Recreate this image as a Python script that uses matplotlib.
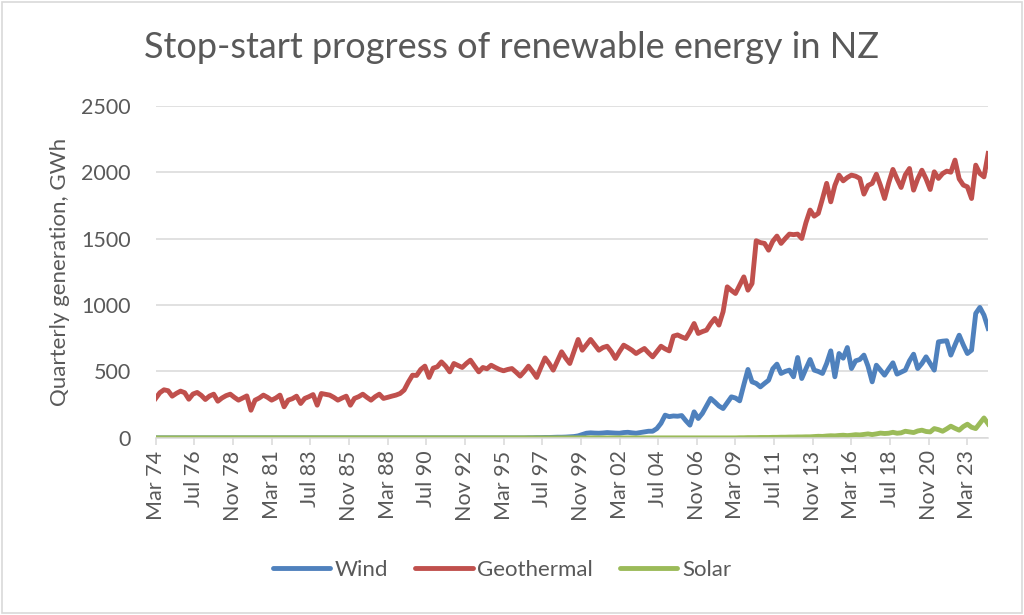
import numpy as np
import pandas as pd
import matplotlib
matplotlib.use("Agg")
import matplotlib.pyplot as plt
from matplotlib.patches import Rectangle

plt.rcParams['font.family'] = ['Lato', 'DejaVu Sans']

# quarterly generation (GWh), Mar 1974 .. Jun 2024
geothermal = [
    297, 340, 362, 355, 314, 335, 352, 340, 291, 330, 342, 320, 289, 315, 329, 276,
    300, 318, 329, 305, 284, 300, 316, 208, 284, 300, 322, 305, 284, 300, 322, 234,
    284, 295, 314, 259, 297, 310, 326, 246, 334, 328, 322, 305, 284, 300, 314, 246,
    297, 310, 329, 305, 284, 310, 329, 297, 305, 314, 322, 334, 360, 420, 472, 470,
    515, 540, 455, 525, 535, 572, 540, 497, 560, 545, 530, 560, 585, 540, 497, 530,
    520, 547, 530, 515, 505, 515, 522, 495, 465, 500, 540, 500, 455, 530, 602, 560,
    510, 580, 648, 600, 560, 650, 741, 660, 700, 741, 700, 660, 680, 690, 650, 598,
    650, 698, 680, 660, 635, 655, 673, 640, 610, 650, 690, 670, 655, 766, 775, 760,
    748, 800, 861, 786, 800, 811, 860, 899, 849, 950, 1137, 1110, 1087, 1150, 1212, 1112,
    1162, 1484, 1470, 1464, 1413, 1480, 1519, 1464, 1500, 1534, 1530, 1534, 1501, 1620, 1715, 1669,
    1690, 1800, 1916, 1777, 1900, 1978, 1935, 1960, 1978, 1970, 1953, 1835, 1900, 1916, 1985, 1900,
    1802, 1920, 2021, 1950, 1885, 1980, 2028, 1865, 1950, 2015, 1950, 1870, 2003, 1953, 1990, 2008,
    2000, 2091, 1950, 1903, 1890, 1802, 2053, 1990, 1965, 2141,
]

wind = [0] * 90 + [
    1, 1, 2, 2, 3, 3, 4, 5, 5, 6, 8, 10, 15, 25,
    35, 38, 36, 35, 37, 40, 38, 36, 35, 40, 42, 38, 35, 40, 45, 50,
    50, 70, 110, 171, 160, 165, 163, 168, 130, 96, 196, 146, 184, 240, 297, 270,
    240, 221, 265, 309, 300, 279, 400, 515, 422, 410, 384, 410, 434, 520, 555, 485,
    500, 510, 460, 605, 447, 520, 590, 510, 500, 485, 560, 655, 460, 635, 600, 680,
    522, 580, 590, 623, 540, 422, 547, 510, 472, 520, 565, 480, 495, 510, 580, 630,
    522, 560, 610, 560, 510, 723, 728, 731, 623, 700, 773, 700, 635, 660, 937, 982,
    924, 824,
]

solar = [0] * 141 + [
    1, 1, 2, 2, 2, 3, 3, 3, 4, 4, 5, 5, 6, 6, 7, 7, 8, 8,
    10, 12, 11, 14, 16, 15, 18, 20, 17, 20, 24, 22, 26, 30, 25, 30, 36, 33,
    35, 42, 35, 38, 50, 45, 40, 52, 58, 48, 45, 70, 62, 50, 68, 88, 72, 58,
    85, 103, 80, 70, 110, 150, 105,
]

n = min(len(geothermal), len(wind), len(solar))
dates = pd.date_range('1974-03-01', periods=n, freq='3MS')

fig = plt.figure(figsize=(10.24, 6.15), dpi=100)
ax = fig.add_axes([0.152, 0.288, 0.813, 0.540])

lw = 3.5
ax.plot(dates, wind[:n], color='#4F81BD', lw=lw, label='Wind', solid_joinstyle='round')
ax.plot(dates, geothermal[:n], color='#C0504D', lw=lw, label='Geothermal', solid_joinstyle='round')
ax.plot(dates, solar[:n], color='#9BBB59', lw=lw, label='Solar', solid_joinstyle='round')

ax.set_xlim(dates[0], dates[-1])
ax.set_ylim(0, 2500)
ax.set_yticks(range(0, 2501, 500))
ax.grid(axis='y', color='#D9D9D9', lw=1.1)
ax.set_axisbelow(True)

ticks = pd.date_range('1974-03-01', '2023-03-01', freq='28MS')
ax.set_xticks(ticks)
ax.set_xticklabels([t.strftime('%b %y') for t in ticks], rotation=90)

for s in ['top', 'right', 'left']:
    ax.spines[s].set_visible(False)
ax.spines['bottom'].set_color('#D9D9D9')
ax.spines['bottom'].set_linewidth(1.1)
ax.tick_params(axis='x', colors='#D9D9D9', length=5, width=1.1, labelcolor='#595959', labelsize=15.5, pad=4)
ax.tick_params(axis='y', length=0, labelcolor='#595959', labelsize=15.5, pad=18)

ax.set_ylabel('Quarterly generation, GWh', color='#595959', fontsize=16, labelpad=8)
fig.text(0.5, 0.922, 'Stop-start progress of renewable energy in NZ', color='#595959',
         fontsize=26, ha='center', va='center')

leg = fig.legend(loc='center', bbox_to_anchor=(0.49, 0.073), ncol=3, frameon=False,
                 fontsize=16, handlelength=2.6, columnspacing=1.2, handletextpad=0.2)
for t in leg.get_texts():
    t.set_color('#595959')
for h in leg.get_lines():
    h.set_linewidth(lw)
    h.set_solid_capstyle('round')

fig.add_artist(Rectangle((0.002, 0.003), 0.996, 0.994, transform=fig.transFigure,
                         fill=False, edgecolor='#D9D9D9', lw=1.2))

fig.savefig('out.png', dpi=100)
